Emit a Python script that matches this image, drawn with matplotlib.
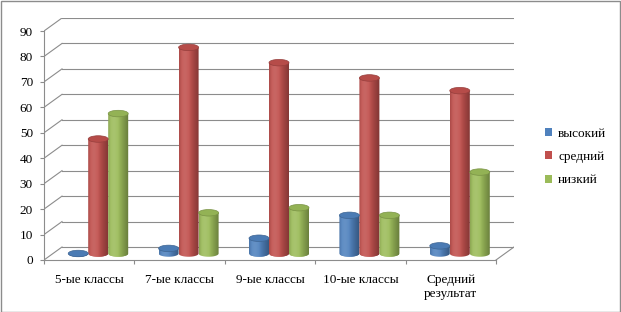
import numpy as np
import matplotlib
matplotlib.use('Agg')
import matplotlib.pyplot as plt
from matplotlib.patches import Ellipse, PathPatch, Patch, Rectangle
from matplotlib.path import Path
from matplotlib.colors import to_rgb

categories = ['5-ые классы', '7-ые классы', '9-ые классы', '10-ые классы', 'Средний\nрезультат']
series = ['высокий', 'средний', 'низкий']
vysokiy = [0, 2, 6, 15, 3]
sredniy = [45, 81, 75, 69, 64]
nizkiy = [55, 16, 18, 15, 32]
colors = ['#4F81BD', '#C0504D', '#9BBB59']
yticks = list(range(0, 100, 10))

plt.rcParams['font.family'] = ['Liberation Serif', 'DejaVu Serif']

W, H = 621, 312
fig = plt.figure(figsize=(W / 100, H / 100), dpi=100)

# plot area in pixels: front floor 44..496, value 0 at y=260, 90 at y=31
x0, x1f, yb, yt = 44, 496, 260, 31
dpx, dpy = 18, 13  # depth offset of back wall
cat_px = (x1f - x0) / len(categories)
val_px = (yb - yt) / 90
DX = dpx / cat_px
DY = dpy / val_px

ax = fig.add_axes([x0 / W, (H - yb) / H, (x1f + dpx - x0) / W, (yb - yt + dpy) / H])
ax.set_xlim(0, len(categories) + DX)
ax.set_ylim(0, 90 + DY)
ax.patch.set_alpha(0)

grid_c = '#8c8c8c'
lw = 0.8
for v in yticks:
    ax.plot([DX, len(categories) + DX], [v + DY, v + DY], color=grid_c, lw=lw, zorder=1)
    ax.plot([0, DX], [v, v + DY], color=grid_c, lw=lw, zorder=1)
ax.plot([len(categories), len(categories) + DX], [0, DY], color=grid_c, lw=lw, zorder=1)

for s in ['top', 'right']:
    ax.spines[s].set_visible(False)
for s in ['left', 'bottom']:
    ax.spines[s].set_color(grid_c)
    ax.spines[s].set_linewidth(lw)
ax.spines['left'].set_bounds(0, 90)
ax.spines['bottom'].set_bounds(0, len(categories))

ax.set_yticks(yticks)
ax.set_yticklabels([str(v) for v in yticks], fontsize=9.5)
ax.set_xticks(range(len(categories) + 1))
ax.set_xticklabels([])
ax.set_xticks([i + 0.5 for i in range(len(categories))], minor=True)
ax.set_xticklabels(categories, minor=True, fontsize=9.5, linespacing=1.25)
ax.tick_params(axis='both', which='major', color=grid_c, length=3, width=lw, direction='out')
ax.tick_params(axis='y', pad=5)
ax.tick_params(axis='x', which='minor', length=0, pad=10)


def shade(c, t):
    r = np.array(to_rgb(c))
    # soft highlight left of centre, darker towards right edge
    h = np.exp(-((t - 0.3) ** 2) / 0.06)
    dark = 0.32 * max(0.0, t - 0.5) / 0.5 + 0.12 * max(0.0, 0.15 - t) / 0.15
    out = r + (1 - r) * 0.12 * h
    return np.clip(out * (1 - dark), 0, 1)


bw = 20 / cat_px
eh = 6.5 / val_px
data = [vysokiy, sredniy, nizkiy]
nstrip = 20
for i in range(len(categories)):
    for j, vals in enumerate(data):
        v = vals[i]
        cx = i + 0.5 + DX / 2 + (j - 1) * bw
        base = DY / 2
        top = base + v
        left = cx - bw / 2
        th = np.linspace(np.pi, 2 * np.pi, 40)
        verts = [(cx + bw / 2 * np.cos(a), base + eh / 2 * np.sin(a)) for a in th]
        verts += [(cx + bw / 2, top), (cx - bw / 2, top), verts[0]]
        clip = PathPatch(Path(verts), transform=ax.transData, facecolor='none', edgecolor='none')
        ax.add_patch(clip)
        sw = bw / nstrip
        bars = ax.bar([left + k * sw for k in range(nstrip)], [v + eh] * nstrip,
                      bottom=base - eh / 2, width=sw * 1.6, align='edge',
                      color=[shade(colors[j], (k + 0.5) / nstrip) for k in range(nstrip)],
                      linewidth=0, zorder=3, antialiased=False)
        for b in bars:
            b.set_clip_path(clip)
        capc = np.array(to_rgb(colors[j])) * 0.95
        ax.add_patch(Ellipse((cx, top), bw, eh, facecolor=capc,
                             edgecolor=np.array(to_rgb(colors[j])) * 0.78, lw=0.5, zorder=4))

handles = [Patch(facecolor=c, edgecolor='none') for c in colors]
fig.legend(handles, series, loc='center left', bbox_to_anchor=(545 / W, 1 - 157 / H),
           frameon=False, fontsize=9.5, handlelength=0.55, handleheight=0.55,
           handletextpad=0.45, labelspacing=0.85, borderpad=0, borderaxespad=0)

fig.patches.append(Rectangle((0.5 / W, 0.5 / H), 1 - 1.5 / W, 1 - 1.5 / H, transform=fig.transFigure,
                             facecolor='none', edgecolor='#8c8c8c', lw=1))

fig.savefig('out.png', dpi=100)
